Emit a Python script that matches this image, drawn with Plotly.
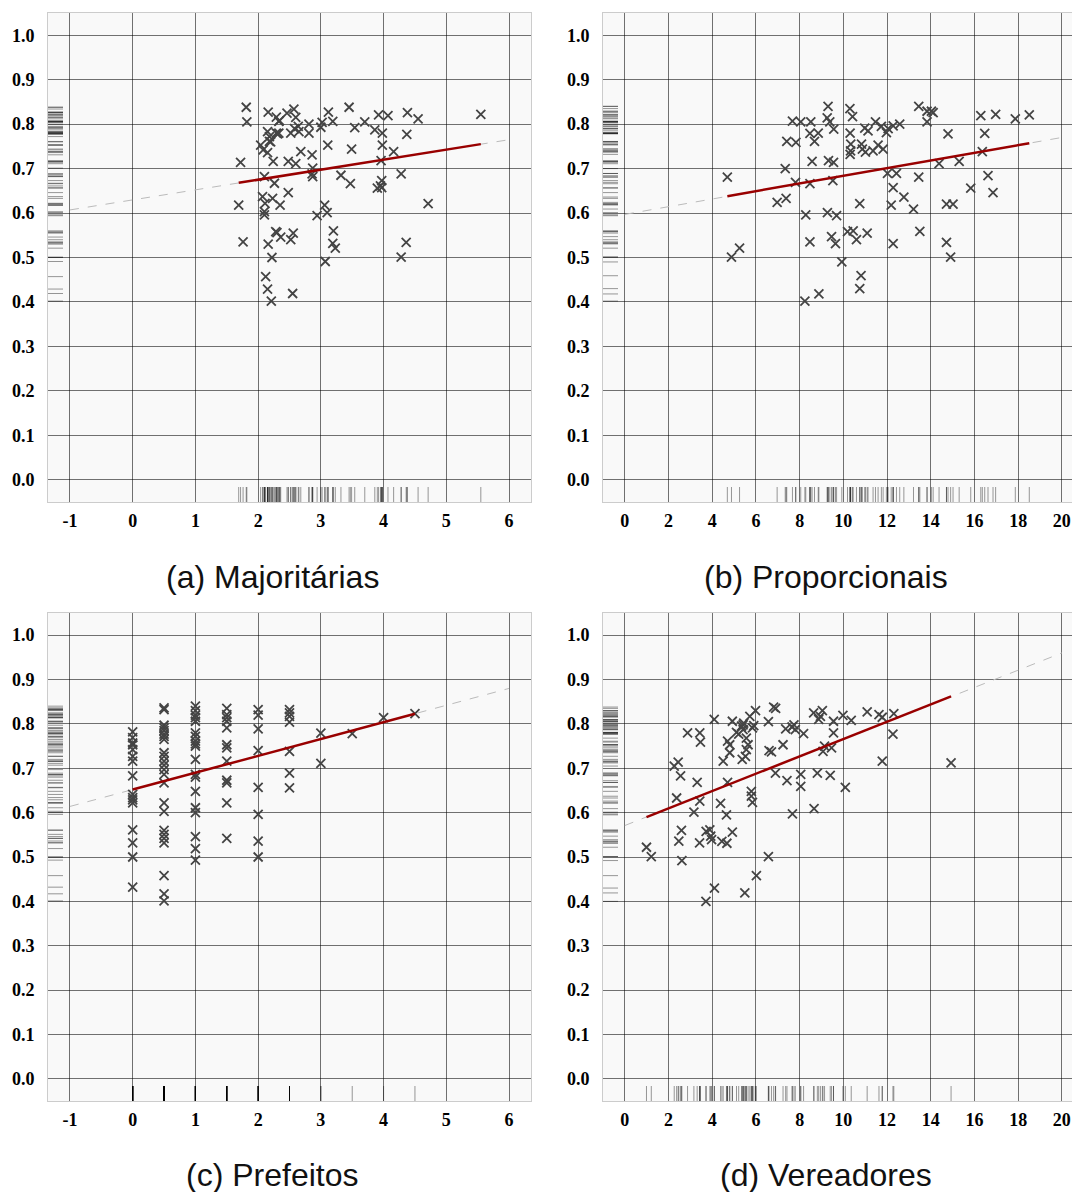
import plotly.graph_objects as go

W, H = 1072, 1192

# ---------------- data ----------------
maj_x = [1.81, 1.82, 1.72, 1.69, 1.76, 2.16, 2.29, 2.33, 2.46, 2.57, 2.60, 2.15, 2.18, 2.29, 2.33,
         2.52, 2.65, 2.64, 2.81, 2.81, 2.04, 2.08, 2.18, 2.15, 2.24, 2.48, 2.60, 2.68, 2.86, 2.87,
         2.87, 2.86, 2.10, 2.26, 2.48, 2.07, 2.11, 2.23, 2.35, 2.10, 2.10, 2.28, 2.30, 2.36, 2.52,
         2.56, 2.16, 2.22, 2.12, 2.15, 2.21, 2.55, 3.12, 3.19, 3.02, 3.00, 3.45, 3.11, 3.49, 3.54,
         3.70, 3.86, 3.92, 4.07, 3.98, 3.98, 4.16, 3.96, 3.32, 3.47, 3.97, 3.95, 3.90, 3.97, 4.28,
         4.38, 4.55, 4.37, 4.71, 3.06, 3.10, 2.94, 3.20, 3.19, 3.23, 3.07, 4.36, 4.28, 5.55, 2.20,
         2.31, 2.58, 2.34]
maj_y = [0.838, 0.805, 0.714, 0.618, 0.535, 0.827, 0.816, 0.806, 0.825, 0.834, 0.815, 0.783, 0.772, 0.780, 0.780,
         0.780, 0.783, 0.795, 0.800, 0.780, 0.753, 0.742, 0.761, 0.736, 0.716, 0.716, 0.711, 0.738, 0.731, 0.701,
         0.682, 0.688, 0.682, 0.667, 0.646, 0.637, 0.622, 0.633, 0.618, 0.603, 0.596, 0.558, 0.556, 0.546, 0.540,
         0.555, 0.530, 0.500, 0.457, 0.429, 0.402, 0.419, 0.827, 0.806, 0.804, 0.793, 0.838, 0.753, 0.744, 0.792,
         0.805, 0.787, 0.821, 0.819, 0.780, 0.753, 0.738, 0.718, 0.685, 0.666, 0.673, 0.661, 0.656, 0.657, 0.688,
         0.826, 0.812, 0.777, 0.621, 0.618, 0.601, 0.594, 0.560, 0.532, 0.521, 0.491, 0.534, 0.501, 0.822, 0.760,
         0.778, 0.790, 0.808]

pro_x = [4.69, 4.88, 5.25, 6.97, 7.38, 7.34, 7.41, 7.83, 7.67, 8.05, 8.51, 8.47, 8.85, 8.68, 8.57,
         7.81, 8.47, 8.28, 8.47, 8.24, 8.88, 9.30, 9.26, 9.38, 9.56, 9.32, 9.55, 9.52, 9.27, 9.69,
         9.46, 9.64, 9.93, 10.30, 10.42, 10.31, 10.34, 10.31, 10.33, 10.83, 10.98, 11.13, 10.87, 11.01, 11.36,
         11.47, 11.74, 11.59, 11.82, 11.97, 12.05, 12.28, 12.58, 10.75, 10.19, 10.45, 10.60, 11.09, 10.81, 10.75,
         12.02, 12.43, 12.28, 12.77, 12.19, 13.21, 13.45, 13.50, 12.28, 13.45, 13.83, 14.03, 14.11, 13.83, 14.79,
         14.38, 15.30, 14.72, 15.02, 14.72, 14.91, 15.83, 16.29, 16.47, 16.36, 16.62, 16.85, 16.97, 17.87, 18.51]
pro_y = [0.681, 0.501, 0.521, 0.624, 0.633, 0.700, 0.761, 0.759, 0.807, 0.805, 0.805, 0.779, 0.780, 0.761, 0.716,
         0.669, 0.666, 0.596, 0.535, 0.402, 0.418, 0.840, 0.814, 0.805, 0.789, 0.718, 0.714, 0.673, 0.601, 0.594,
         0.547, 0.531, 0.490, 0.835, 0.817, 0.780, 0.755, 0.732, 0.740, 0.755, 0.791, 0.785, 0.744, 0.737, 0.740,
         0.805, 0.795, 0.753, 0.744, 0.781, 0.790, 0.796, 0.800, 0.621, 0.558, 0.560, 0.540, 0.555, 0.459, 0.430,
         0.689, 0.689, 0.657, 0.636, 0.618, 0.609, 0.681, 0.559, 0.531, 0.840, 0.829, 0.829, 0.826, 0.805, 0.778,
         0.711, 0.716, 0.620, 0.620, 0.534, 0.501, 0.656, 0.819, 0.779, 0.738, 0.684, 0.646, 0.822, 0.812, 0.821]

pre_x = ([0.0] * 16 + [0.5] * 24 + [1.0] * 19 + [1.5] * 12 + [2.0] * 8 + [2.5] * 7
         + [3.0] * 2 + [3.5, 4.0, 4.5])
pre_y = [0.782, 0.769, 0.757, 0.753, 0.742, 0.727, 0.716, 0.683, 0.641, 0.634, 0.629, 0.622, 0.561, 0.532, 0.500, 0.432,
         0.836, 0.832, 0.797, 0.791, 0.785, 0.777, 0.772, 0.765, 0.735, 0.727, 0.716, 0.707, 0.697, 0.686, 0.667, 0.622,
         0.603, 0.560, 0.551, 0.542, 0.532, 0.458, 0.417, 0.401,
         0.840, 0.830, 0.820, 0.814, 0.806, 0.780, 0.772, 0.761, 0.755, 0.750, 0.720, 0.686, 0.680, 0.648, 0.611, 0.600,
         0.546, 0.519, 0.493,
         0.835, 0.821, 0.814, 0.806, 0.791, 0.753, 0.746, 0.716, 0.673, 0.667, 0.622, 0.542,
         0.832, 0.820, 0.789, 0.740, 0.657, 0.596, 0.536, 0.500,
         0.832, 0.825, 0.817, 0.804, 0.738, 0.689, 0.656,
         0.779, 0.711, 0.778, 0.814, 0.823]

ver_x = [0.99, 1.21, 2.37, 2.26, 2.44, 2.55, 2.59, 2.47, 2.61, 2.87, 3.43, 3.46, 3.31, 3.43, 3.16,
         3.42, 4.09, 3.72, 3.89, 3.93, 3.97, 3.71, 4.10, 4.50, 4.70, 4.80, 4.80, 4.70, 4.38, 4.65,
         4.44, 4.67, 4.92, 4.92, 5.11, 5.21, 5.34, 5.41, 5.44, 5.72, 5.98, 5.41, 5.56, 5.64, 5.56,
         5.52, 5.37, 5.84, 5.90, 5.79, 5.79, 5.84, 6.02, 5.49, 6.57, 6.60, 6.71, 6.81, 6.90, 6.89,
         7.24, 7.36, 7.65, 7.74, 7.80, 8.18, 7.42, 7.67, 8.05, 8.05, 8.81, 8.64, 8.87, 9.04, 8.95,
         9.07, 9.14, 9.40, 8.66, 9.55, 9.55, 9.46, 9.98, 10.36, 10.09, 11.09, 11.63, 11.78, 11.78, 12.31,
         12.27, 14.93, 6.57]
ver_y = [0.522, 0.501, 0.633, 0.705, 0.714, 0.683, 0.560, 0.536, 0.492, 0.780, 0.780, 0.759, 0.668, 0.626, 0.601,
         0.532, 0.810, 0.558, 0.561, 0.547, 0.539, 0.400, 0.430, 0.716, 0.761, 0.753, 0.735, 0.668, 0.621, 0.595,
         0.535, 0.531, 0.556, 0.806, 0.781, 0.777, 0.795, 0.798, 0.802, 0.817, 0.830, 0.787, 0.768, 0.753, 0.742,
         0.727, 0.720, 0.791, 0.796, 0.648, 0.637, 0.623, 0.458, 0.419, 0.805, 0.740, 0.737, 0.838, 0.835, 0.689,
         0.753, 0.789, 0.793, 0.798, 0.787, 0.778, 0.672, 0.597, 0.686, 0.659, 0.689, 0.825, 0.810, 0.830, 0.817,
         0.738, 0.750, 0.684, 0.609, 0.780, 0.806, 0.746, 0.819, 0.808, 0.657, 0.827, 0.821, 0.815, 0.716, 0.823,
         0.777, 0.712, 0.501]

# fitted lines (solid over data span, dashed extension)
maj_fit_x, maj_fit_y = [1.69, 5.55], [0.668, 0.755]
maj_ext_x, maj_ext_y = [-1, 6], [0.607, 0.765]
pro_fit_x, pro_fit_y = [4.69, 18.51], [0.638, 0.757]
pro_ext_x, pro_ext_y = [0, 20], [0.597, 0.770]
pre_fit_x, pre_fit_y = [0.0, 4.5], [0.652, 0.823]
pre_ext_x, pre_ext_y = [-1, 6], [0.614, 0.880]
ver_fit_x, ver_fit_y = [0.99, 14.93], [0.590, 0.862]
ver_ext_x, ver_ext_y = [0, 20], [0.571, 0.960]

# tick labels
small_ticks = [-1, 0, 1, 2, 3, 4, 5, 6]
small_text = ["-1", "0", "1", "2", "3", "4", "5", "6"]
big_ticks = [0, 2, 4, 6, 8, 10, 12, 14, 16, 18, 20]
big_text = ["0", "2", "4", "6", "8", "10", "12", "14", "16", "18", "20"]
y_ticks = [0.0, 0.1, 0.2, 0.3, 0.4, 0.5, 0.6, 0.7, 0.8, 0.9, 1.0]
y_text = ["0.0", "0.1", "0.2", "0.3", "0.4", "0.5", "0.6", "0.7", "0.8", "0.9", "1.0"]

captions = ["(a) Majoritárias", "(b) Proporcionais", "(c) Prefeitos", "(d) Vereadores"]

# ---------------- layout geometry ----------------
col_dom = [[48 / W, 531 / W], [603 / W, 1.0]]
row_dom = [[1 - 502 / H, 1 - 13 / H], [1 - 1101 / H, 1 - 613 / H]]
y_range = [-0.05, 1.05]
small_range = [-1.35, 6.35]
big_range = [-1.0, (1072 - 603) / 21.85 - 1.0]

panels = [
    dict(x=maj_x, y=maj_y, fx=maj_fit_x, fy=maj_fit_y, ex=maj_ext_x, ey=maj_ext_y,
         xr=small_range, tv=small_ticks, tt=small_text, col=0, row=0),
    dict(x=pro_x, y=pro_y, fx=pro_fit_x, fy=pro_fit_y, ex=pro_ext_x, ey=pro_ext_y,
         xr=big_range, tv=big_ticks, tt=big_text, col=1, row=0),
    dict(x=pre_x, y=pre_y, fx=pre_fit_x, fy=pre_fit_y, ex=pre_ext_x, ey=pre_ext_y,
         xr=small_range, tv=small_ticks, tt=small_text, col=0, row=1),
    dict(x=ver_x, y=ver_y, fx=ver_fit_x, fy=ver_fit_y, ex=ver_ext_x, ey=ver_ext_y,
         xr=big_range, tv=big_ticks, tt=big_text, col=1, row=1),
]

tick_font = dict(family="'Liberation Serif', 'Times New Roman', Times, serif", size=18,
                 color="#000000", weight="bold")
fig = go.Figure()
RUG_PX = 15
rug_color = "rgba(0,0,0,0.4)"
layout_axes = {}

for i, p in enumerate(panels):
    n = i + 1
    xa = "x" if n == 1 else f"x{n}"
    ya = "y" if n == 1 else f"y{n}"
    xd = col_dom[p["col"]]
    yd = row_dom[p["row"]]
    dom_w_px = (xd[1] - xd[0]) * W
    dom_h_px = (yd[1] - yd[0]) * H
    dx = RUG_PX * (p["xr"][1] - p["xr"][0]) / dom_w_px
    dy = RUG_PX * (y_range[1] - y_range[0]) / dom_h_px

    # x rug
    rx, ry = [], []
    for v in p["x"]:
        rx += [v, v, None]
        ry += [y_range[0], y_range[0] + dy, None]
    fig.add_trace(go.Scatter(x=rx, y=ry, mode="lines", xaxis=xa, yaxis=ya,
                             line=dict(color=rug_color, width=1), hoverinfo="skip", showlegend=False))
    # y rug
    rx, ry = [], []
    for v in p["y"]:
        rx += [p["xr"][0], p["xr"][0] + dx, None]
        ry += [v, v, None]
    fig.add_trace(go.Scatter(x=rx, y=ry, mode="lines", xaxis=xa, yaxis=ya,
                             line=dict(color=rug_color, width=1), hoverinfo="skip", showlegend=False))
    # dashed extension
    fig.add_trace(go.Scatter(x=p["ex"], y=p["ey"], mode="lines", xaxis=xa, yaxis=ya,
                             line=dict(color="#bbbbbb", width=1, dash="dash"), showlegend=False))
    # points
    fig.add_trace(go.Scatter(x=p["x"], y=p["y"], mode="markers", xaxis=xa, yaxis=ya,
                             marker=dict(symbol="x-thin", size=9, line=dict(color="#444444", width=1.8)),
                             showlegend=False))
    # fit line
    fig.add_trace(go.Scatter(x=p["fx"], y=p["fy"], mode="lines", xaxis=xa, yaxis=ya,
                             line=dict(color="#990000", width=2.5), showlegend=False))

    sfx = "" if n == 1 else str(n)
    layout_axes[f"xaxis{sfx}"] = dict(
        domain=xd, anchor=ya, range=p["xr"], tickmode="array", tickvals=p["tv"], ticktext=p["tt"],
        showgrid=True, gridcolor="rgba(0,0,0,0.55)", gridwidth=1, zeroline=False,
        showline=True, linecolor="#cccccc", linewidth=1, mirror=True,
        ticks="outside", ticklen=2, tickcolor="rgba(0,0,0,0)",
        tickfont=tick_font,
    )
    layout_axes[f"yaxis{sfx}"] = dict(
        domain=yd, anchor=xa, range=y_range, tickmode="array", tickvals=y_ticks, ticktext=y_text,
        showgrid=True, gridcolor="rgba(0,0,0,0.55)", gridwidth=1, zeroline=False,
        showline=True, linecolor="#cccccc", linewidth=1, mirror=True,
        ticks="outside", ticklen=9, tickcolor="rgba(0,0,0,0)",
        tickfont=tick_font,
    )

cap_pos = [(272, 577), (826, 577), (272, 1175), (826, 1175)]
annotations = []
for text, (cx, cy) in zip(captions, cap_pos):
    annotations.append(dict(text=text, xref="paper", yref="paper", x=cx / W, y=1 - cy / H,
                            xanchor="center", yanchor="middle", showarrow=False,
                            font=dict(family="'Liberation Sans', Arial, sans-serif", size=32,
                                      color="#111111")))

fig.update_layout(
    width=W, height=H, margin=dict(l=0, r=0, t=0, b=0),
    paper_bgcolor="white", plot_bgcolor="#f9f9f9",
    showlegend=False, annotations=annotations,
    **layout_axes,
)

fig.write_html("out.html")
